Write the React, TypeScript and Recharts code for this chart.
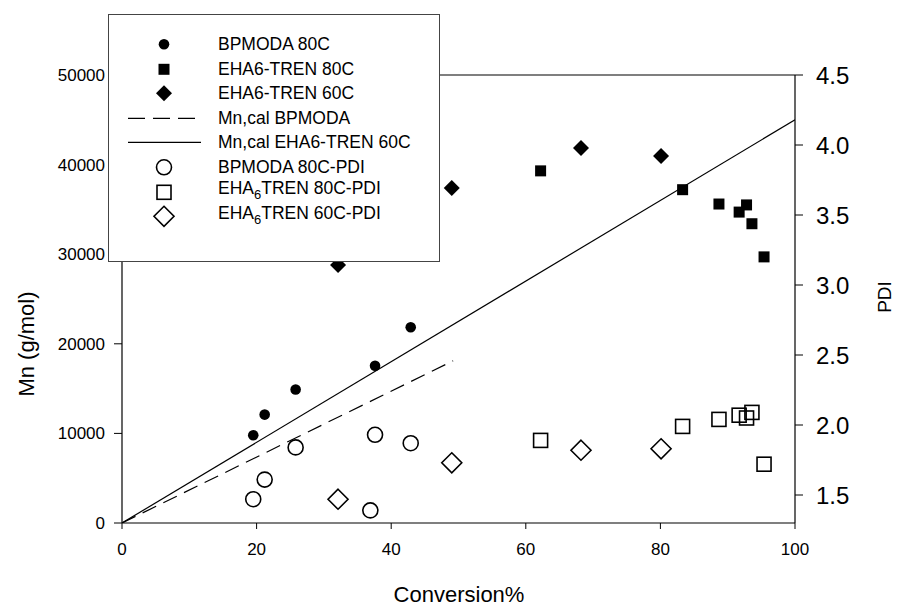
import React from 'react';
import { ComposedChart, Scatter, XAxis, YAxis, ReferenceLine, Legend } from 'recharts';

const FONT = '"Liberation Sans", Arial, sans-serif';

// Mn (g/mol) vs conversion %
const bpmoda80 = [
  { x: 19.5, y: 9800 },
  { x: 21.2, y: 12100 },
  { x: 25.8, y: 14900 },
  { x: 37.6, y: 17550 },
  { x: 42.9, y: 21850 },
];
const eha80 = [
  { x: 62.2, y: 39300 },
  { x: 83.3, y: 37200 },
  { x: 88.7, y: 35600 },
  { x: 91.7, y: 34700 },
  { x: 92.8, y: 35500 },
  { x: 93.6, y: 33400 },
  { x: 95.4, y: 29700 },
];
const eha60 = [
  { x: 32.1, y: 28800 },
  { x: 49.0, y: 37400 },
  { x: 68.2, y: 41850 },
  { x: 80.1, y: 40950 },
];
const calBpmoda = [
  { x: 0, y: 0 },
  { x: 49.2, y: 18100 },
];
const calEha60 = [
  { x: 0, y: 0 },
  { x: 100, y: 45000 },
];
// PDI vs conversion %
const bpmodaPdi = [
  { x: 19.5, y: 1.47 },
  { x: 21.2, y: 1.61 },
  { x: 25.8, y: 1.84 },
  { x: 37.6, y: 1.93 },
  { x: 42.9, y: 1.87 },
  { x: 36.9, y: 1.39 },
];
const eha80Pdi = [
  { x: 62.2, y: 1.89 },
  { x: 83.3, y: 1.99 },
  { x: 88.7, y: 2.04 },
  { x: 91.7, y: 2.07 },
  { x: 92.8, y: 2.05 },
  { x: 93.6, y: 2.09 },
  { x: 95.4, y: 1.72 },
];
const eha60Pdi = [
  { x: 32.1, y: 1.47 },
  { x: 49.0, y: 1.73 },
  { x: 68.2, y: 1.82 },
  { x: 80.1, y: 1.83 },
];

const xTicks = [0, 20, 40, 60, 80, 100];
const leftTicks = [0, 10000, 20000, 30000, 40000, 50000];
const rightTicks = [1.5, 2.0, 2.5, 3.0, 3.5, 4.0, 4.5];

type Sym = 'fcircle' | 'fsquare' | 'fdiamond' | 'dash' | 'solid' | 'ocircle' | 'osquare' | 'odiamond';

const legendItems: { sym: Sym; label: React.ReactNode }[] = [
  { sym: 'fcircle', label: 'BPMODA 80C' },
  { sym: 'fsquare', label: 'EHA6-TREN 80C' },
  { sym: 'fdiamond', label: 'EHA6-TREN 60C' },
  { sym: 'dash', label: 'Mn,cal BPMODA' },
  { sym: 'solid', label: 'Mn,cal EHA6-TREN 60C' },
  { sym: 'ocircle', label: 'BPMODA 80C-PDI' },
  { sym: 'osquare', label: <>EHA<sub style={{ fontSize: 13, verticalAlign: '-0.35em' }}>6</sub>TREN 80C-PDI</> },
  { sym: 'odiamond', label: <>EHA<sub style={{ fontSize: 13, verticalAlign: '-0.35em' }}>6</sub>TREN 60C-PDI</> },
];

function drawSymbol(sym: Sym, cx: number, cy: number) {
  switch (sym) {
    case 'fcircle':
      return <circle cx={cx} cy={cy} r={5.3} fill="#000" />;
    case 'fsquare':
      return <rect x={cx - 5.5} y={cy - 5.5} width={11} height={11} fill="#000" />;
    case 'fdiamond':
      return <polygon points={`${cx},${cy - 8} ${cx + 8},${cy} ${cx},${cy + 8} ${cx - 8},${cy}`} fill="#000" />;
    case 'ocircle':
      return <circle cx={cx} cy={cy} r={7.5} fill="none" stroke="#000" strokeWidth={1.6} />;
    case 'osquare':
      return <rect x={cx - 7} y={cy - 7} width={14} height={14} fill="none" stroke="#000" strokeWidth={1.6} />;
    case 'odiamond':
      return (
        <polygon
          points={`${cx},${cy - 10} ${cx + 10},${cy} ${cx},${cy + 10} ${cx - 10},${cy}`}
          fill="none"
          stroke="#000"
          strokeWidth={1.6}
        />
      );
    default:
      return <g />;
  }
}

const shapeFor = (sym: Sym) => (props: any) => drawSymbol(sym, props.cx, props.cy);
const noShape = () => <g />;

const renderLegend = () => (
  <div
    style={{
      width: 332,
      height: 248,
      boxSizing: 'border-box',
      border: '1px solid #444',
      background: '#fff',
      paddingTop: 17,
      fontFamily: FONT,
      fontSize: 17.5,
      color: '#000',
    }}
  >
    {legendItems.map((it, i) => (
      <div key={i} style={{ display: 'flex', alignItems: 'center', height: 24.6, position: 'relative' }}>
        <svg width={100} height={24.6} style={{ position: 'absolute', left: 18, top: 0 }}>
          {it.sym === 'dash' ? (
            <line x1={1} y1={12.3} x2={68} y2={12.3} stroke="#000" strokeWidth={1.2} strokeDasharray="17 8" />
          ) : it.sym === 'solid' ? (
            <line x1={1} y1={12.3} x2={74} y2={12.3} stroke="#000" strokeWidth={1.2} />
          ) : (
            drawSymbol(it.sym, 37, 12.3)
          )}
        </svg>
        <span style={{ position: 'absolute', left: 109, whiteSpace: 'nowrap', lineHeight: '24.6px' }}>{it.label}</span>
      </div>
    ))}
  </div>
);

const tickStyle = { fill: '#000', fontSize: 17, fontFamily: FONT };

export default function App() {
  return (
    <div style={{ position: 'absolute', left: 0, top: 0, width: 901, height: 608, background: '#fff' }}>
      <ComposedChart width={901} height={608} margin={{ top: 75, right: 0, bottom: 0, left: 0 }}>
        <XAxis
          type="number"
          dataKey="x"
          domain={[0, 100]}
          ticks={xTicks}
          height={85}
          tickSize={6}
          tickMargin={14}
          axisLine={{ stroke: '#000', strokeWidth: 1.2 }}
          tickLine={{ stroke: '#000' }}
          tick={tickStyle}
          allowDataOverflow
          label={{
            content: () => (
              <text x={459} y={602} textAnchor="middle" fontSize={22} fontFamily={FONT} fill="#000">
                Conversion%
              </text>
            ),
          }}
        />
        <YAxis
          yAxisId="left"
          type="number"
          dataKey="y"
          domain={[0, 50000]}
          ticks={leftTicks}
          width={122}
          tickSize={8}
          tickMargin={9}
          axisLine={{ stroke: '#000', strokeWidth: 1.2 }}
          tickLine={{ stroke: '#000' }}
          tick={tickStyle}
          allowDataOverflow
          label={{
            content: () => (
              <text
                x={34}
                y={344}
                transform="rotate(-90 34 344)"
                textAnchor="middle"
                fontSize={22}
                fontFamily={FONT}
                fill="#000"
              >
                Mn (g/mol)
              </text>
            ),
          }}
        />
        <YAxis
          yAxisId="right"
          orientation="right"
          type="number"
          dataKey="y"
          domain={[1.3, 4.5]}
          ticks={rightTicks}
          width={106}
          tickSize={8}
          tickMargin={13}
          tickFormatter={(v: number) => v.toFixed(1)}
          axisLine={{ stroke: '#000', strokeWidth: 1.2 }}
          tickLine={{ stroke: '#000' }}
          tick={{ fill: '#000', fontSize: 24, fontFamily: FONT }}
          allowDataOverflow
          label={{
            content: () => (
              <text
                x={891}
                y={297}
                transform="rotate(-90 891 297)"
                textAnchor="middle"
                fontSize={19}
                fontFamily={FONT}
                fill="#000"
              >
                PDI
              </text>
            ),
          }}
        />
        <ReferenceLine yAxisId="left" y={50000} stroke="#000" strokeWidth={1.2} />
        <Scatter
          yAxisId="left"
          data={calEha60}
          line={{ stroke: '#000', strokeWidth: 1.2 }}
          lineType="joint"
          shape={noShape}
          isAnimationActive={false}
        />
        <Scatter
          yAxisId="left"
          data={calBpmoda}
          line={{ stroke: '#000', strokeWidth: 1.2, strokeDasharray: '15 8' }}
          lineType="joint"
          shape={noShape}
          isAnimationActive={false}
        />
        <Scatter yAxisId="left" data={bpmoda80} shape={shapeFor('fcircle')} isAnimationActive={false} />
        <Scatter yAxisId="left" data={eha80} shape={shapeFor('fsquare')} isAnimationActive={false} />
        <Scatter yAxisId="left" data={eha60} shape={shapeFor('fdiamond')} isAnimationActive={false} />
        <Scatter yAxisId="right" data={bpmodaPdi} shape={shapeFor('ocircle')} isAnimationActive={false} />
        <Scatter yAxisId="right" data={eha80Pdi} shape={shapeFor('osquare')} isAnimationActive={false} />
        <Scatter yAxisId="right" data={eha60Pdi} shape={shapeFor('odiamond')} isAnimationActive={false} />
        <Legend
          layout="horizontal"
          verticalAlign="middle"
          align="center"
          content={renderLegend}
          wrapperStyle={{ position: 'absolute', left: 108, top: 14, width: 332, height: 248 }}
        />
      </ComposedChart>
    </div>
  );
}
